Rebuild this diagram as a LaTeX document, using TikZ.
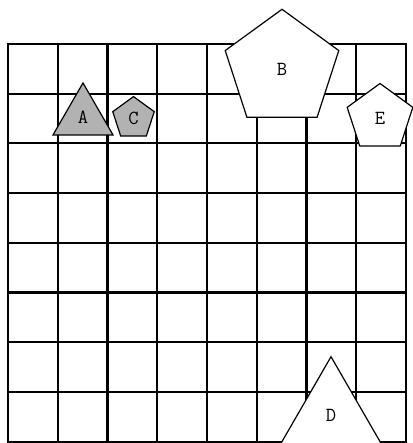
\documentclass[tikz,border=0pt]{standalone}
\usetikzlibrary{shapes.geometric}
\tikzset{
  gridline/.style={line width=2.2pt, line cap=rect},
  shapebase/.style={draw=black, line width=1.2pt, inner sep=0pt, outer sep=0pt,
    font=\fontsize{20}{22}\selectfont\ttfamily},
  tri/.style={shapebase, regular polygon, regular polygon sides=3},
  pent/.style={shapebase, regular polygon, regular polygon sides=5},
  grayfill/.style={fill=black!30},
  whitefill/.style={fill=white}
}
\begin{document}
\begin{tikzpicture}[x=1pt,y=-1pt]
\useasboundingbox (0,0) rectangle (412,443);
% grid
\foreach \i in {0,...,8} {
  \draw[gridline] ({8+49.75*\i},44) -- ({8+49.75*\i},441.5);
  \draw[gridline] (8,{44+49.7*\i}) -- (406,{44+49.7*\i});
}
% shapes
\node[tri, grayfill, minimum size=69.3pt] (A) at (83,117.6) {A};
\node[pent, grayfill, minimum size=43.6pt] (C) at (133.5,118.4) {C};
\node[pent, whitefill, minimum size=119.4pt] (B) at (282,69) {B};
\node[pent, whitefill, minimum size=69pt] (E) at (380,118) {E};
\node[tri, whitefill, minimum size=116.6pt] (D) at (331,415) {D};
\end{tikzpicture}
\end{document}
